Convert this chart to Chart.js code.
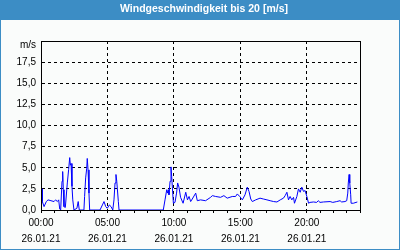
<!DOCTYPE html>
<html><head><meta charset="utf-8">
<script src="https://cdn.jsdelivr.net/npm/chart.js@4/dist/chart.umd.min.js"></script>
<style>html,body{margin:0;padding:0;background:#fff}canvas{display:block}</style>
</head><body>
<canvas id="c" width="400" height="250"></canvas>
<script>
const titleText = 'Windgeschwindigkeit bis 20 [m/s]';
const unitLabel = 'm/s';
const dateLabel = '26.01.21';
const hourTicks = [0, 5, 10, 15, 20];
const hours = [0.00,0.08,0.10,0.23,0.40,0.53,0.75,0.98,1.10,1.23,1.33,1.41,1.48,1.58,1.63,1.68,1.73,1.83,1.98,2.08,2.16,2.21,2.26,2.33,2.39,2.48,2.70,2.80,2.88,3.23,3.28,3.36,3.44,3.48,3.54,3.61,3.66,4.44,4.62,4.74,4.87,4.99,5.14,5.27,5.40,5.49,5.57,5.64,5.70,5.82,5.87,9.20,9.33,9.46,9.53,9.58,9.63,9.71,9.78,9.83,9.91,9.96,10.08,10.20,10.28,10.38,10.50,10.69,10.89,11.02,11.14,11.26,11.38,11.64,11.76,12.00,12.38,12.76,12.89,13.14,13.51,13.76,14.01,14.39,14.64,14.77,14.95,15.15,15.35,15.52,15.65,15.78,15.90,16.15,16.48,16.73,17.00,17.24,17.50,17.75,18.00,18.24,18.37,18.50,18.62,18.74,18.87,19.00,19.07,19.25,19.37,19.50,19.62,19.75,19.87,20.00,20.13,20.24,20.50,20.74,20.86,20.99,21.25,21.75,21.95,22.25,22.50,22.62,22.87,23.00,23.08,23.12,23.18,23.23,23.30,23.33,23.50,23.80];
const speeds = [2.5,2.5,1.0,0.4,1.0,1.2,1.1,1.0,1.2,1.0,1.2,0.1,0,3.4,4.55,2.4,0.4,0.3,3.2,4.8,6.2,5.3,5.5,2.8,1.2,0,0.2,1.0,0,0,1.6,3.8,4.95,6.1,4.75,2.0,0,0,0.6,1.0,0.4,0.2,0.6,0.4,0,1.2,3.2,4.2,3.4,1.0,0,0,1.2,2.4,2.0,2.4,1.8,3.4,5.1,4.0,2.0,0.8,0.9,2.0,3.2,2.7,1.5,0.8,2.1,1.2,1.6,1.0,1.3,2.0,1.1,1.2,1.1,1.5,1.7,1.6,1.5,1.7,1.4,1.6,1.6,1.9,1.6,1.2,1.8,2.7,2.2,1.3,1.0,1.2,1.4,1.3,1.2,1.1,1.0,0.95,1.2,1.4,1.7,2.1,1.2,1.6,1.2,1.5,0.8,1.6,2.5,2.1,2.7,2.2,2.3,1.6,0.8,0.9,0.95,0.9,1.1,0.9,0.95,1.0,0.9,1.0,1.1,0.95,1.0,1.1,2.0,3.2,4.2,3.2,1.8,0.8,0.8,0.95];

const BLUE = '#3c8dc5';
const BG = '#fafcfb';
const FONT = 'Liberation Sans';

const framePlugin = {
  id: 'frame',
  beforeDraw(chart) {
    const {ctx, width, height} = chart;
    ctx.save();
    ctx.fillStyle = BG;
    ctx.fillRect(0, 0, width, height);
    ctx.fillStyle = BLUE;
    ctx.fillRect(0, 0, width, 20);
    ctx.strokeStyle = BLUE;
    ctx.lineWidth = 1;
    ctx.strokeRect(0.5, 0.5, width - 1, height - 1);
    ctx.restore();
  },
  afterDraw(chart) {
    const {ctx, chartArea: a} = chart;
    ctx.save();
    ctx.strokeStyle = '#000';
    ctx.lineWidth = 1;
    const l = Math.round(a.left) + 0.5, t = Math.round(a.top) + 0.5;
    const r = Math.round(a.right) + 0.5, b = Math.round(a.bottom) + 0.5;
    ctx.strokeRect(l, t, r - l, b - t);
    ctx.restore();
  }
};

const pad2 = n => (n < 10 ? '0' : '') + n;

new Chart(document.getElementById('c'), {
  type: 'line',
  data: {
    datasets: [{
      data: hours.map((h, i) => ({x: h, y: speeds[i]})),
      borderColor: '#0000ff',
      borderWidth: 1,
      pointRadius: 0,
      tension: 0,
      fill: false
    }]
  },
  options: {
    responsive: false,
    animation: false,
    devicePixelRatio: 1,
    layout: {padding: {left: 8, right: 0, top: 0, bottom: 0}},
    plugins: {
      legend: {display: false},
      tooltip: {enabled: false},
      title: {
        display: true,
        text: titleText,
        color: '#ffffff',
        font: {family: FONT, size: 10.5, weight: 'bold', lineHeight: 1.2},
        padding: {top: 2.4, bottom: 26}
      }
    },
    scales: {
      x: {
        type: 'linear',
        min: 0, max: 24,
        afterFit(s) { s.height = 40; },
        ticks: {
          stepSize: 1,
          autoSkip: false,
          maxRotation: 0, minRotation: 0,
          padding: 2,
          color: '#000',
          font: {family: FONT, size: 10, lineHeight: 1.6},
          callback: v => hourTicks.includes(v) ? [pad2(v) + ':00', dateLabel] : ''
        },
        grid: {
          color: c => (c.tick && hourTicks.includes(c.tick.value) && c.tick.value !== 0) ? '#000' : 'rgba(0,0,0,0)',
          tickColor: '#000',
          tickLength: 3,
          lineWidth: 1
        },
        border: {display: true, color: '#000', dash: [3, 3]}
      },
      y: {
        min: 0, max: 20,
        afterFit(s) { s.width = 33; },
        ticks: {
          stepSize: 2.5,
          padding: 5,
          color: '#000',
          font: c => (c.tick && c.tick.value === 20) ? {family: FONT, size: 10, lineHeight: 0.9} : {family: FONT, size: 10},
          callback: v => v === 20 ? ['', unitLabel] : v.toFixed(1).replace('.', ',')
        },
        grid: {
          color: c => (c.tick && c.tick.value > 0 && c.tick.value < 20) ? '#000' : 'rgba(0,0,0,0)',
          drawTicks: false,
          lineWidth: 1
        },
        border: {display: true, color: '#000', dash: [3, 3]}
      },
      yRight: {
        position: 'right',
        min: 0, max: 20,
        afterFit(s) { s.width = 40; },
        ticks: {display: false},
        grid: {display: false, drawTicks: false},
        border: {display: false}
      }
    }
  },
  plugins: [framePlugin]
});
</script>
</body></html>
